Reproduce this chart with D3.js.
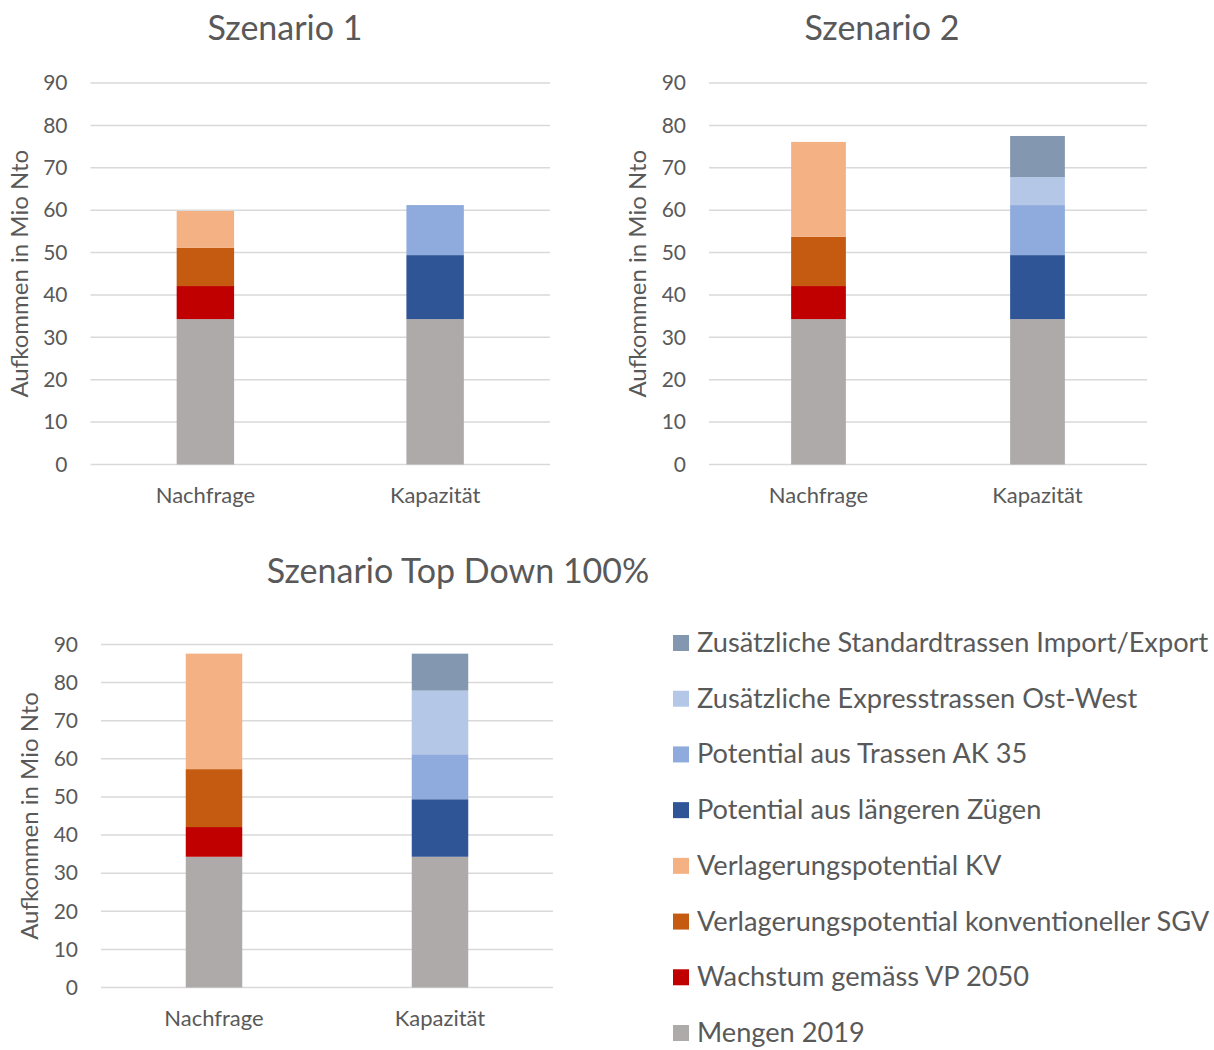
<!DOCTYPE html>
<html>
<head>
<meta charset="utf-8">
<script src="https://cdn.jsdelivr.net/npm/d3@7"></script>
<style>
  html, body { margin: 0; padding: 0; background: #fff; }
  svg text { font-family: Lato, "Open Sans", sans-serif; fill: #595959; }
</style>
</head>
<body>
<svg id="chart" width="1214" height="1050"></svg>
<script>
// Categories on the x axis of every panel
const categories = ["Nachfrage", "Kapazität"];

// Stack order, bottom to top
const seriesNames = [
  "Mengen 2019",
  "Wachstum gemäss VP 2050",
  "Verlagerungspotential konventioneller SGV",
  "Verlagerungspotential KV",
  "Potential aus längeren Zügen",
  "Potential aus Trassen AK 35",
  "Zusätzliche Expresstrassen Ost-West",
  "Zusätzliche Standardtrassen Import/Export"
];

// Values in Mio Nto, one entry per series (same order as seriesNames)
const s1Nachfrage  = [34.3, 7.8, 9.0, 8.7, 0, 0, 0, 0];
const s1Kapazitaet = [34.3, 0, 0, 0, 15.1, 11.8, 0, 0];

const s2Nachfrage  = [34.3, 7.8, 11.6, 22.4, 0, 0, 0, 0];
const s2Kapazitaet = [34.3, 0, 0, 0, 15.1, 11.8, 6.6, 9.7];

const s3Nachfrage  = [34.3, 7.8, 15.2, 30.3, 0, 0, 0, 0];
const s3Kapazitaet = [34.3, 0, 0, 0, 15.1, 11.8, 16.7, 9.7];

// Y axis ticks
const yTicks = [0, 10, 20, 30, 40, 50, 60, 70, 80, 90];

const titles = ["Szenario 1", "Szenario 2", "Szenario Top Down 100%"];
const yAxisTitle = "Aufkommen in Mio Nto";

// Fill colours per series
const seriesColors = [
  "#AEAAAA", "#C00000", "#C55A11", "#F4B183",
  "#2F5597", "#8FAADC", "#B4C7E7", "#8497B0"
];

const svg = d3.select("#chart");

function rowsFor(a, b) {
  return [a, b].map((vals, i) => {
    const row = { category: categories[i] };
    seriesNames.forEach((s, j) => { row[s] = vals[j]; });
    return row;
  });
}

const panels = [
  { title: titles[0], rows: rowsFor(s1Nachfrage, s1Kapazitaet),
    x0: 90.5, x1: 550, yTop: 83, yBot: 464.5, titleX: 285, titleY: 40, labelX: 28 },
  { title: titles[1], rows: rowsFor(s2Nachfrage, s2Kapazitaet),
    x0: 709, x1: 1147, yTop: 83, yBot: 464.5, titleX: 882, titleY: 40, labelX: 646 },
  { title: titles[2], rows: rowsFor(s3Nachfrage, s3Kapazitaet),
    x0: 101, x1: 553, yTop: 644.5, yBot: 987.5, titleX: 458, titleY: 583, labelX: 38 }
];

const stack = d3.stack().keys(seriesNames);
const color = d3.scaleOrdinal().domain(seriesNames).range(seriesColors);

panels.forEach(p => {
  const g = svg.append("g");
  const x = d3.scaleBand().domain(categories).range([p.x0, p.x1]).padding(0);
  const y = d3.scaleLinear().domain([0, 90]).range([p.yBot, p.yTop]);
  const barW = x.bandwidth() / 4;

  // horizontal gridlines
  g.append("g").selectAll("line").data(yTicks).join("line")
    .attr("x1", p.x0).attr("x2", p.x1)
    .attr("y1", d => y(d)).attr("y2", d => y(d))
    .attr("stroke", "#D9D9D9").attr("stroke-width", 1.5);

  // y tick labels
  const yAxis = d3.axisLeft(y).tickValues(yTicks).tickSize(0).tickPadding(23);
  const ya = g.append("g").attr("transform", `translate(${p.x0},0)`).call(yAxis);
  ya.select(".domain").remove();
  ya.selectAll("text").style("font-size", "21px").attr("fill", "#595959");

  // stacked bars
  const layers = stack(p.rows);
  g.append("g").selectAll("g").data(layers).join("g")
    .attr("fill", d => color(d.key))
    .selectAll("rect").data(d => d.filter(v => v[1] > v[0])).join("rect")
    .attr("x", d => x(d.data.category) + x.bandwidth() / 2 - barW / 2)
    .attr("width", barW)
    .attr("y", d => y(d[1]))
    .attr("height", d => y(d[0]) - y(d[1]));

  // category labels
  const xAxis = d3.axisBottom(x).tickSize(0).tickPadding(23);
  const xa = g.append("g").attr("transform", `translate(0,${p.yBot})`).call(xAxis);
  xa.select(".domain").remove();
  xa.selectAll("text").style("font-size", "22px").attr("fill", "#595959");

  // title
  g.append("text").attr("x", p.titleX).attr("y", p.titleY)
    .attr("text-anchor", "middle").style("font-size", "34px")
    .text(p.title);

  // y axis title
  g.append("text")
    .attr("transform", `translate(${p.labelX},${(p.yTop + p.yBot) / 2}) rotate(-90)`)
    .attr("text-anchor", "middle").style("font-size", "24px")
    .text(yAxisTitle);
});

// legend, top entry is the last series
const legendItems = seriesNames.slice().reverse();
const legendY = d3.scalePoint().domain(legendItems).range([643, 1033]);
const lg = svg.append("g").selectAll("g").data(legendItems).join("g")
  .attr("transform", d => `translate(673,${legendY(d)})`);
lg.append("rect").attr("x", 0).attr("y", -8).attr("width", 16).attr("height", 16)
  .attr("fill", d => color(d));
lg.append("text").attr("x", 24).attr("y", 0).attr("dy", "0.33em")
  .style("font-size", "27.2px").text(d => d);
</script>
</body>
</html>
